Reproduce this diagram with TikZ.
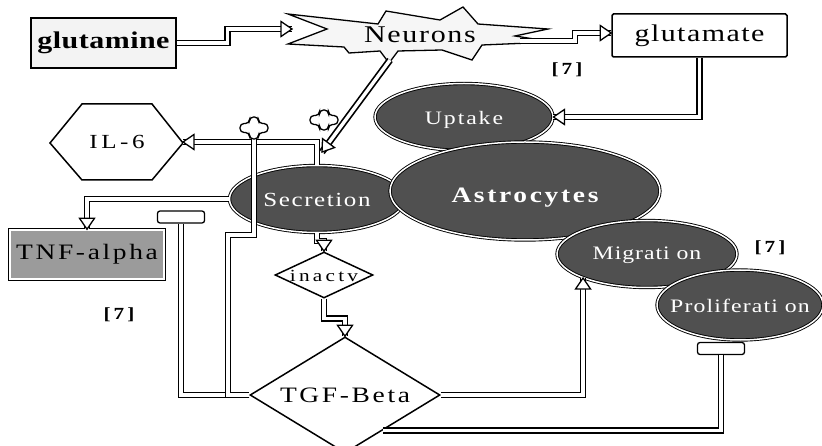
\documentclass[tikz,border=0pt]{standalone}
\usepackage{fontspec}
\setmainfont{Liberation Serif}
\usetikzlibrary{shapes.geometric,calc,decorations.markings}
\definecolor{cellgray}{RGB}{80,80,80}
\definecolor{tnfgray}{RGB}{155,155,155}
\definecolor{neugray}{RGB}{246,246,246}
\definecolor{boxgray}{RGB}{243,243,243}
\newcommand\myrm[2]{\fontsize{#1}{#1}\selectfont\addfontfeatures{FakeStretch=1.25,LetterSpace=#2}}
\newcommand\mybf[2]{\fontsize{#1}{#1}\bfseries\addfontfeatures{FakeStretch=1.25,LetterSpace=#2}}
\newcommand\ctext[2]{\makebox[0pt]{\raisebox{-#1pt}[0pt][0pt]{#2}}}
\tikzset{
  conn/.style={draw=black, line width=1.7pt, double=white, double distance=3.4pt, line join=miter},
  arr/.style={conn, postaction={decorate, decoration={markings,
      mark=at position 1 with {\filldraw[fill=white, draw=black, line width=1.3pt, line join=miter]
        (0pt,0pt) -- (-11pt,7.5pt) -- (-11pt,-7.5pt) -- cycle;}}}},
  cell/.style={ellipse, fill=cellgray, draw=black, double=white, double distance=1.5pt, line width=0.9pt, inner sep=0pt, text=white},
  box/.style={rectangle, draw=black, line width=1.5pt, inner sep=0pt},
  diam/.style={diamond, draw=black, fill=white, line width=1.5pt, inner sep=0pt},
  tbar/.style={rectangle, rounded corners=2.5pt, draw=black, fill=white, line width=1.3pt, minimum width=47pt, minimum height=12pt, inner sep=0pt},
  plusnode/.style={rectangle, inner sep=0pt, minimum width=28pt, minimum height=22pt},
  plusst/.style={draw=black, fill=white, line width=1.3pt, rounded corners=4pt},
  refst/.style={font=\mybf{17}{18}, inner sep=0pt},
}
\begin{document}
\begin{tikzpicture}[x=1pt, y=-1pt]
\clip (0,0) rectangle (822,446);
\fill[white] (0,0) rectangle (822,446);

% Neurons star
\filldraw[fill=neugray, draw=black, line width=1.3pt, line join=miter]
  (288,14) -- (378,24) -- (386,11) -- (440,20) -- (463,7) -- (478,24) -- (548,29) -- (515,36)
  -- (553,42) -- (482,45) -- (472,60) -- (442,50) -- (398,51) -- (389,63) -- (380,51)
  -- (349,53) -- (344,47) -- (288,44) -- (327,29) -- cycle;
\node[inner sep=0pt, font=\myrm{24}{7}] (neu) at (420,35) {Neurons};
\coordinate (neuL) at (292,29);
\coordinate (neuR) at (520,41);
\coordinate (neuB) at (390,60);
\coordinate (nsEnd) at (322,152);

% boxes
\node[box, fill=boxgray, minimum width=145pt, minimum height=50pt, font=\mybf{24}{2}] (glm) at (103.5,43) {glutamine};
\node[box, fill=white, rounded corners=1.5pt, minimum width=175pt, minimum height=43pt, font=\myrm{24}{6}] (glu) at (699.5,35.5) {glutamate};
\node[rectangle, fill=tnfgray, draw=white, line width=1.5pt, preaction={draw=black, line width=4.5pt},
  minimum width=154pt, minimum height=49pt, inner sep=0pt, font=\myrm{22}{12}] (tnf) at (87,254.5) {TNF-alpha};

% IL-6 hexagon
\draw[black, line width=1.5pt, fill=white, line join=miter]
  (50,143) -- (82,104) -- (152,104) -- (183,143) -- (152,180) -- (82,180) -- cycle;
\node[inner sep=0pt, font=\myrm{20}{18}] (il6) at (117,142) {IL-6};
\coordinate (il6r) at (183,142);

% diamonds
\node[diam, minimum width=98pt, minimum height=46pt, font=\myrm{17}{19}] (inact) at (324,275) {\ctext{6.5}{inactv}};
\node[diam, minimum width=190pt, minimum height=116pt, font=\myrm{22}{12}] (tgf) at (345,395) {\ctext{7.5}{TGF-Beta}};
\coordinate (tgfSE) at ($(tgf.east)!0.6!(tgf.south)$);
\coordinate (pj) at (228,235);

% inhibition bars and plus markers
\node[tbar] (tbar1) at (181,217) {};
\node[tbar] (tbar2) at (721,348.5) {};
\node[plusnode] (plus1) at (254,128) {};
\node[plusnode] (plus2) at (324,120) {};

% cells under the connectors
\node[cell, minimum width=178pt, minimum height=67pt, font=\myrm{19}{10}] (upt) at (464,117) {\ctext{7.5}{Uptake}};
\node[cell, minimum width=175pt, minimum height=67pt, font=\myrm{20}{8}] (sec) at (317,199) {\ctext{7.5}{Secretion}};

% connectors
\draw[arr] (glm.east) -- ++(51,0) |- (neuL);
\draw[arr] (neuR) -- ++(55,0) |- ([yshift=2.5pt]glu.west);
\draw[arr] (glu.south) |- (upt.east);
\draw[arr] (neuB) -- (nsEnd);
\draw[arr] (sec.north) |- (il6r);
\draw[arr] (sec.west) -| (tnf.north);
\draw[arr] (sec.south) -- ++(0,8) -| (inact.north);
\draw[arr] (inact.south) -- ++(0,20) -| (tgf.north);
\draw[conn] (tgfSE) -| (tbar2.south);
\draw[conn] (tgf.west) -| (tbar1.south);
\draw[conn] (tgf.west) -| (pj) -| (plus1.south);

\draw[plusst, shift={(plus1)}] (-4.5,-11) -- (4.5,-11) -- (4.5,-4.5) -- (14,-4.5) -- (14,4.5) -- (4.5,4.5)
  -- (4.5,11) -- (-4.5,11) -- (-4.5,4.5) -- (-14,4.5) -- (-14,-4.5) -- (-4.5,-4.5) -- cycle;
\draw[plusst, shift={(plus2)}] (-4.5,-10) -- (4.5,-10) -- (4.5,-4.5) -- (14,-4.5) -- (14,4.5) -- (4.5,4.5)
  -- (4.5,10) -- (-4.5,10) -- (-4.5,4.5) -- (-14,4.5) -- (-14,-4.5) -- (-4.5,-4.5) -- cycle;

% cells on top
\node[cell, minimum width=270pt, minimum height=98pt, font=\mybf{22}{12}] (ast) at (525,191) {\ctext{11.5}{Astrocytes}};
\node[cell, minimum width=180pt, minimum height=67pt, font=\myrm{19}{5}] (mig) at (647,254) {\ctext{6}{Migrati on}};
\node[cell, minimum width=166pt, minimum height=70pt, font=\myrm{19}{6}] (prol) at (740,305) {\ctext{8}{Proliferati on}};
\draw[arr] (tgf.east) -| (mig.south west);

% reference markers
\node[refst] (r1) at (567,70) {[7]};
\node[refst] (r2) at (770,248) {[7]};
\node[refst] (r3) at (119,315) {[7]};
\end{tikzpicture}
\end{document}
